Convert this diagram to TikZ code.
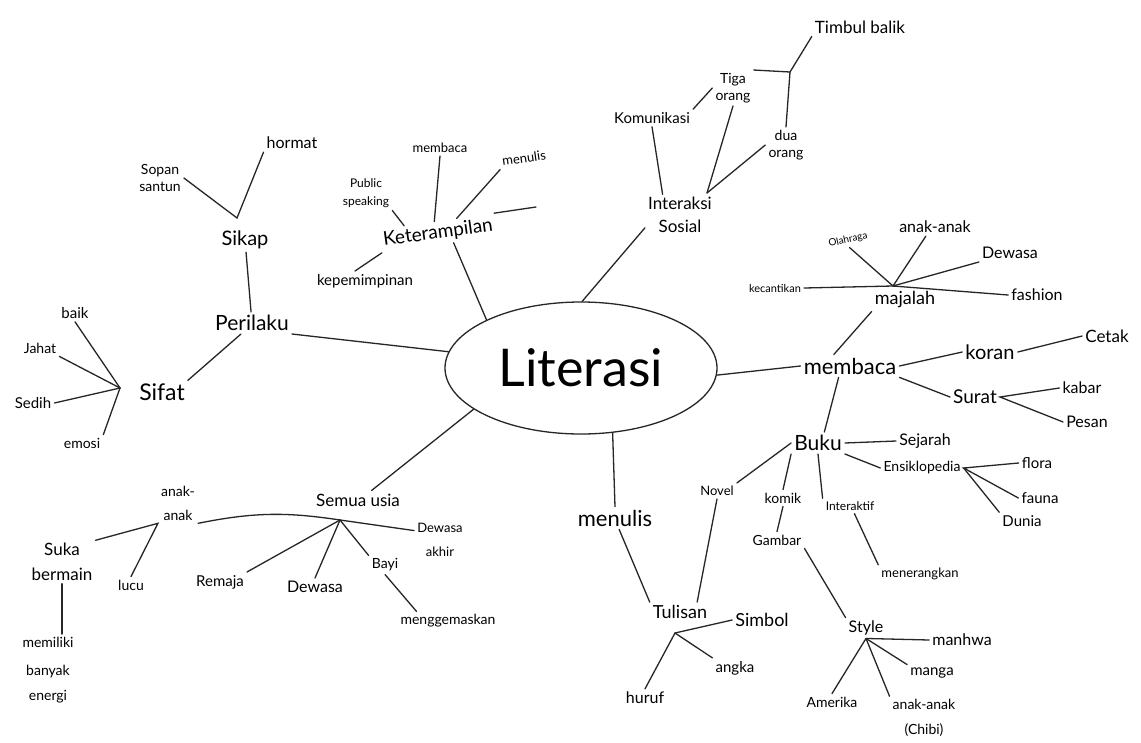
\documentclass[tikz,border=0pt]{standalone}
\usepackage{fontspec}
\setmainfont{Lato}
\usetikzlibrary{shapes.geometric}
\tikzset{
	lbl/.style={font=\fontsize{#1}{\dimexpr#1pt*6/5\relax}\selectfont, align=center, inner sep=3pt},
	branch/.style={line width=1.3pt, line cap=round, black!85},
}

\begin{document}
\begin{tikzpicture}[x=1pt, y=-1pt]
		\useasboundingbox[fill=white] (0,0) rectangle (1141,742);
		
		% centre
		\node[draw, ellipse, line width=1.3pt, black!85, text=black, minimum width=272, minimum height=132, lbl=52] (lit) at (581,368) {Literasi};
		
		% Perilaku
		\node[lbl=21] (perilaku) at (252,323) {Perilaku};
		\node[lbl=20] (sikap) at (245,240) {Sikap};
		\node[lbl=14] (sopan) at (160,178) {Sopan\\santun};
		\node[lbl=16] (hormat) at (292,143) {hormat};
		\node[lbl=23] (sifat) at (162,392) {Sifat};
		\node[lbl=15] (baik) at (75,313) {baik};
		\node[lbl=14] (jahat) at (40,348) {Jahat};
		\node[lbl=15] (sedih) at (33,403) {Sedih};
		\node[lbl=14] (emosi) at (82,443) {emosi};
		\coordinate (sikapJ) at (237,218);
		\coordinate (sifatJ) at (120,388);
		
		% Keterampilan
		\node[lbl=19, rotate=8] (ket) at (438,233) {Keterampilan};
		\node[lbl=13] (ketbaca) at (440,148) {membaca};
		\node[lbl=13, rotate=8] (ketnulis) at (524,158) {menulis};
		\node[lbl=12] (public) at (366,193) {Public\\[3pt]speaking};
		\node[lbl=15] (kepemimpinan) at (365,281) {kepemimpinan};
		\coordinate (ketstub) at (536,207);
		
		% Interaksi Sosial
		\node[lbl=17] (interaksi) at (680,215) {Interaksi\\[2pt]Sosial};
		\node[lbl=15] (komunikasi) at (652,118) {Komunikasi};
		\node[lbl=14] (tiga) at (733,88) {Tiga\\orang};
		\node[lbl=14] (dua) at (786,145) {dua\\orang};
		\node[lbl=17] (timbul) at (860,27) {Timbul balik};
		\coordinate (interJ) at (707,193);
		\coordinate (timbulJ) at (790,72);
		
		% membaca
		\node[lbl=22] (membaca) at (850,366) {membaca};
		\node[lbl=18] (majalah) at (905,300) {majalah};
		\node[lbl=10, rotate=12] (olahraga) at (848,240) {Olahraga};
		\node[lbl=16] (anakM) at (935,227) {anak-anak};
		\node[lbl=16] (dewasaM) at (1010,253) {Dewasa};
		\node[lbl=11] (kecantikan) at (775,288) {kecantikan};
		\node[lbl=16] (fashion) at (1037,295) {fashion};
		\coordinate (majJ) at (893,286);
		\node[lbl=20] (koran) at (990,352) {koran};
		\node[lbl=17] (cetak) at (1107,336) {Cetak};
		\node[lbl=19] (surat) at (975,397) {Surat};
		\node[lbl=16] (kabar) at (1082,388) {kabar};
		\node[lbl=16] (pesan) at (1087,422) {Pesan};
		
		% Buku
		\node[lbl=21] (buku) at (818,443) {Buku};
		\node[lbl=16] (sejarah) at (925,441) {Sejarah};
		\node[lbl=14] (ensiklopedia) at (922,468) {Ensiklopedia};
		\node[lbl=15] (flora) at (1037,463) {flora};
		\node[lbl=15] (fauna) at (1040,498) {fauna};
		\node[lbl=15] (dunia) at (1022,521) {Dunia};
		\node[lbl=13] (novel) at (717,491) {Novel};
		\node[lbl=14] (komik) at (783,498) {komik};
		\node[lbl=12] (interaktif) at (850,506) {Interaktif};
		\node[lbl=14] (gambar) at (777,540) {Gambar};
		\node[lbl=13] (menerangkan) at (920,574) {menerangkan};
		\node[lbl=16] (style) at (866,628) {Style};
		\node[lbl=16] (manhwa) at (962,640) {manhwa};
		\node[lbl=15] (manga) at (932,673) {manga};
		\node[lbl=14] (amerika) at (832,702) {Amerika};
		\node[lbl=14] (chibi) at (924,718) {anak-anak\\[8pt](Chibi)};
		
		% menulis
		\node[lbl=22] (menulis) at (615,518) {menulis};
		\node[lbl=18] (tulisan) at (680,612) {Tulisan};
		\node[lbl=18] (simbol) at (762,620) {Simbol};
		\node[lbl=15] (angka) at (735,668) {angka};
		\node[lbl=16] (huruf) at (645,698) {huruf};
		\coordinate (tulJ) at (675,633);
		
		% Semua usia
		\node[lbl=17] (semua) at (358,500) {Semua usia};
		\node[lbl=14] (anakS) at (178,503) {anak-\\[7pt]anak};
		\node[lbl=13] (dewasaA) at (440,540) {Dewasa\\[8pt]akhir};
		\node[lbl=15] (remaja) at (220,582) {Remaja};
		\node[lbl=16] (dewasaS) at (315,587) {Dewasa};
		\node[lbl=14] (bayi) at (385,565) {Bayi};
		\node[lbl=14] (mengg) at (448,621) {menggemaskan};
		\node[lbl=17] (suka) at (62,562) {Suka\\[4pt]bermain};
		\node[lbl=14] (lucu) at (131,585) {lucu};
		\node[lbl=14] (memiliki) at (48,670) {memiliki\\[11pt]banyak\\[8pt]energi};
		\coordinate (semJ) at (340,520);
		
		% Perilaku branch
		\draw[branch] (perilaku.south east) -- (lit.173);
		\draw[branch] (sikap) -- (perilaku);
		\draw[branch] (sopan.east) -- (sikapJ) -- (hormat.south west);
		\draw[branch] (sifat.north east) -- (perilaku.225);
		\draw[branch] (baik.south) -- (sifatJ);
		\draw[branch] (jahat.south east) -- (sifatJ);
		\draw[branch] (sedih.east) -- (sifatJ);
		\draw[branch] (emosi.north east) -- (sifatJ);
		
		% Keterampilan branch
		\draw[branch] (ket.-40) -- (lit.153);
		\draw[branch] (kepemimpinan.135) -- (ket.south west);
		\draw[branch] (public.south east) -- (ket.160);
		\draw[branch] (ketbaca.south) -- (ket.100);
		\draw[branch] (ket.30) -- (ketnulis.south west);
		\draw[branch] (ket.north east) -- (ketstub);
		
		% Interaksi branch
		\draw[branch] (interaksi.200) -- (lit.89);
		\draw[branch] (komunikasi.south) -- (interaksi.130);
		\draw[branch] (komunikasi.north east) -- (tiga.west);
		\draw[branch] (interJ) -- (tiga.south);
		\draw[branch] (interJ) -- (dua.west);
		\draw[branch] (tiga.north east) -- (timbulJ);
		\draw[branch] (dua.north) -- (timbulJ);
		\draw[branch] (timbulJ) -- (timbul.south west);
		
		% membaca branch
		\draw[branch] (lit.-3) -- (membaca.west);
		\draw[branch] (membaca.145) -- (majalah.south west);
		\draw[branch] (kecantikan.east) -- (majJ) -- (fashion.west);
		\draw[branch] (olahraga.south) -- (majJ);
		\draw[branch] (majJ) -- (anakM.225);
		\draw[branch] (majJ) -- (dewasaM.south west);
		\draw[branch] (membaca.east) -- (koran.west);
		\draw[branch] (koran.east) -- (cetak.west);
		\draw[branch] (membaca.south east) -- (surat.west);
		\draw[branch] (kabar.west) -- (surat.east) -- (pesan.west);
		\draw[branch] (membaca.225) -- (buku.60);
		
		% Buku branch
		\draw[branch] (buku.east) -- (sejarah.west);
		\draw[branch] (buku.south east) -- (ensiklopedia.west);
		\draw[branch] (flora.west) -- (ensiklopedia.east) -- (fauna.west);
		\draw[branch] (ensiklopedia.east) -- (dunia.north west);
		\draw[branch] (novel.north east) -- (buku.west);
		\draw[branch] (komik.north) -- (buku.south west);
		\draw[branch] (buku.south) -- (interaktif.north west);
		\draw[branch] (interaktif.-60) -- (menerangkan.north west);
		\draw[branch] (komik.south) -- (gambar.north);
		\draw[branch] (gambar.south east) -- (style.north west);
		\draw[branch] (style.south) -- (manhwa.west);
		\draw[branch] (style.south) -- (manga.north west);
		\draw[branch] (style.south) -- (amerika.north);
		\draw[branch] (style.south) -- (chibi.north west);
		
		% menulis branch
		\draw[branch] (lit.-64) -- (menulis.north);
		\draw[branch] (menulis.-70) -- (tulisan.north west);
		\draw[branch] (novel.south) -- (tulisan.30);
		\draw[branch] (tulJ) -- (simbol.west);
		\draw[branch] (tulJ) -- (angka.north west);
		\draw[branch] (tulJ) -- (huruf.north);
		
		% Semua usia branch
		\draw[branch] (lit.201) -- (semua.35);
		\draw[branch] (anakS.south east) to[bend left=10] (semJ);
		\draw[branch] (semJ) -- (dewasaA.160);
		\draw[branch] (semJ) -- (remaja.north east);
		\draw[branch] (semJ) -- (dewasaS.north);
		\draw[branch] (semJ) -- (bayi.north west);
		\draw[branch] (bayi.south) -- (mengg.163);
		\draw[branch] (suka.north east) -- (anakS.south west) -- (lucu.north);
		\draw[branch] (suka.south) -- (suka.south |- memiliki.north);
	\end{tikzpicture}
\end{document}
